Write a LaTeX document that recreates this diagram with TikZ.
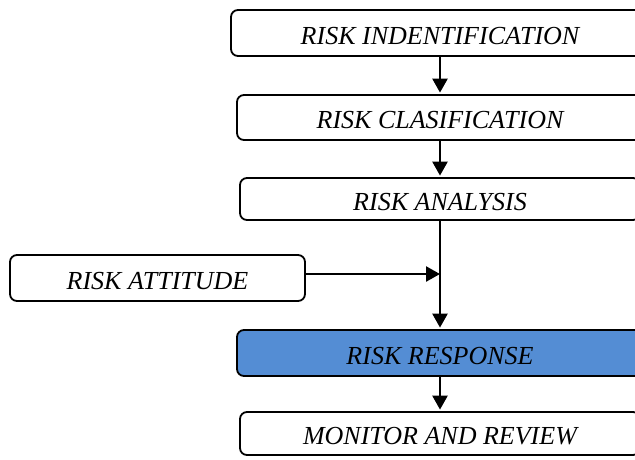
\documentclass[tikz,border=0pt]{standalone}
\usepackage{fontspec}
\setmainfont{Liberation Serif}
\usetikzlibrary{arrows.meta}
\definecolor{respblue}{HTML}{548DD4}

\begin{document}
\begin{tikzpicture}[x=1pt,y=-1pt]
\useasboundingbox (0,0) rectangle (635,459);
\clip (0,0) rectangle (635,459);
\begin{scope}[every node/.style={rectangle,rounded corners=7pt,draw,line width=1.8pt,
              font=\fontsize{26}{30}\selectfont\itshape,inner sep=0pt,text height=23pt}]
    \node[minimum width=418pt,minimum height=46pt] (ident) at (440,33) {RISK INDENTIFICATION};
    \node[minimum width=406pt,minimum height=45pt] (clas) at (440,117.5) {RISK CLASIFICATION};
    \node[minimum width=400pt,minimum height=42pt] (anal) at (440,199) {RISK ANALYSIS};
    \node[minimum width=295pt,minimum height=46pt] (att) at (157.5,278) {RISK ATTITUDE};
    \node[minimum width=406pt,minimum height=46pt,fill=respblue] (resp) at (440,353) {RISK RESPONSE};
    \node[minimum width=400pt,minimum height=43pt] (mon) at (440,433.5) {MONITOR AND REVIEW};
\end{scope}
\coordinate (join) at (440,274);

\begin{scope}[>={Triangle[length=14pt,width=15pt]},
              every edge/.style={draw=black,line width=2.5pt,shorten >=1.5pt}]
    \path [->] (ident) edge (clas);
    \path [->] (clas) edge (anal);
    \path [->] (anal) edge (resp);
    \path [->] ([yshift=4pt]att.east) edge[shorten >=0pt] (join);
    \path [->] (resp) edge (mon);
\end{scope}
\end{tikzpicture}
\end{document}
